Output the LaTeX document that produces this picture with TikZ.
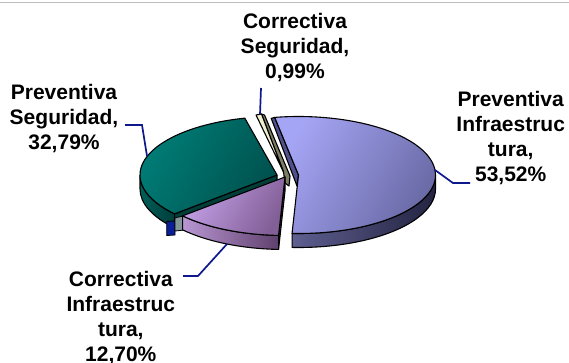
\documentclass[tikz,border=0pt]{standalone}
\usepackage{fontspec}
\setmainfont{Liberation Sans}
\usetikzlibrary{calc}
\definecolor{leader}{RGB}{12,24,140}
\definecolor{rulegray}{RGB}{190,190,190}
\definecolor{bigTopL}{RGB}{165,165,245}
\definecolor{bigTopR}{RGB}{105,105,165}
\definecolor{bigRimL}{RGB}{95,95,145}
\definecolor{bigRimR}{RGB}{35,35,65}
\definecolor{bigSide}{RGB}{80,80,140}
\definecolor{tealTopL}{RGB}{0,128,122}
\definecolor{tealTopR}{RGB}{0,82,78}
\definecolor{tealRimL}{RGB}{0,95,90}
\definecolor{tealRimR}{RGB}{0,60,58}
\definecolor{tealSide}{RGB}{0,62,58}
\definecolor{navyBlk}{RGB}{10,30,150}
\definecolor{grayBlk}{RGB}{130,150,150}
\definecolor{purTopL}{RGB}{195,160,230}
\definecolor{purTopR}{RGB}{130,95,150}
\definecolor{purRimL}{RGB}{185,150,210}
\definecolor{purRimR}{RGB}{95,65,110}
\definecolor{purSide}{RGB}{90,60,100}
\definecolor{ivory}{RGB}{240,240,208}
\definecolor{olive}{RGB}{125,125,100}
\begin{document}
\begin{tikzpicture}[x=1pt,y=1pt,
  lbl/.style={font=\fontsize{21}{25}\selectfont\bfseries, align=center, inner sep=0pt, anchor=north},
  lead/.style={draw=leader, line width=1.7pt, line join=miter},
  edge/.style={draw=black, line width=1.1pt, line join=round},
  ell/.style={x radius=137pt, y radius=58.5pt},
]
\useasboundingbox (0,0) rectangle (569,-362);
\coordinate (ruleL) at (0,-2);
\coordinate (ruleR) at (569,-2);
\draw[rulegray, line width=1pt] (ruleL) -- (ruleR);

% pie centres (exploded)
\coordinate (B) at (298.5,-175);
\coordinate (T) at (277,-175);
\coordinate (U) at (285,-177);

% tiny slice: Correctiva Seguridad
\filldraw[edge, fill=olive] (261.5,-114) -- (264.5,-115) -- (290,-176) -- (289,-186) -- (285,-183) -- (283.5,-172) -- cycle;
\filldraw[edge, fill=ivory] (256,-115) -- (261.5,-114) -- (283.5,-172) -- cycle;
\coordinate (tinyTop) at (260,-114.5);

% big slice: Preventiva Infraestructura
\shadedraw[edge, left color=bigRimL, right color=bigRimR]
  ($(B)+(-92.7:137pt and 58.5pt)$) arc[start angle=-92.7, end angle=0, ell]
  -- ++(0,-14) arc[start angle=0, end angle=-92.7, ell] -- cycle;
\filldraw[edge, fill=bigSide]
  ($(B)+(100:137pt and 58.5pt)$) -- (B) -- ($(B)+(-1.5,-11)$)
  -- ($(B)+(100:137pt and 58.5pt)+(-3.5,-1)$) -- cycle;
\shadedraw[edge, left color=bigTopL, right color=bigTopR, shading angle=60]
  (B) -- ($(B)+(-92.7:137pt and 58.5pt)$) arc[start angle=-92.7, end angle=100, ell] -- cycle;
\coordinate (bigR) at (435,-170);

% teal slice: Preventiva Seguridad
\shadedraw[edge, left color=tealRimL, right color=tealRimR]
  ($(T)+(180:137pt and 58.5pt)$) arc[start angle=180, end angle=221.6, ell]
  -- ++(0,-14) arc[start angle=221.6, end angle=180, ell] -- cycle;
\filldraw[edge, fill=tealSide]
  (T) -- ($(T)+(221.6:137pt and 58.5pt)$) -- ++(0,-14) -- ($(T)+(0,-14)$) -- cycle;
\filldraw[draw=black, line width=0.8pt, fill=navyBlk] (166.7,-221.5) -- (175,-221) -- (175,-235) -- (166.7,-235.5) -- cycle;
\shadedraw[edge, left color=tealTopL, right color=tealTopR, shading angle=60]
  (T) -- ($(T)+(103.6:137pt and 58.5pt)$) arc[start angle=103.6, end angle=221.6, ell] -- cycle;
\coordinate (tealL) at (147,-156);

% purple slice: Correctiva Infraestructura
\filldraw[draw=black, line width=0.8pt, fill=grayBlk] (175,-217.8) -- (182.6,-216.2) -- (182.6,-230.2) -- (175,-231) -- cycle;
\shadedraw[edge, left color=purRimL, right color=purRimR]
  ($(U)+(221.6:137pt and 58.5pt)$) arc[start angle=221.6, end angle=267.3, ell]
  -- ++(0,-14) arc[start angle=267.3, end angle=221.6, ell] -- cycle;
\filldraw[edge, fill=purSide]
  (U) -- ($(U)+(267.3:137pt and 58.5pt)$) -- ++(0,-14) -- ($(U)+(0,-14)$) -- cycle;
\shadedraw[edge, left color=purTopL, right color=purTopR, shading angle=60]
  (U) -- ($(U)+(221.6:137pt and 58.5pt)$) arc[start angle=221.6, end angle=267.3, ell] -- cycle;
\coordinate (purB) at (227,-244);

% labels
\node[lbl] (lTop) at (295,-13) {Correctiva\\Seguridad,\\0,99\%};
\node[lbl] (lRight) at (510.7,-91.5) {Preventiva\\Infraestruc\\tura,\\53,52\%};
\node[lbl] (lLeft) at (64,-84) {Preventiva\\Seguridad,\\32,79\%};
\node[lbl] (lBot) at (120.8,-271) {Correctiva\\Infraestruc\\tura,\\12,70\%};

% leader lines
\coordinate (topA) at (261,-88);
\coordinate (rightA) at (470,-183);
\coordinate (rightK) at (453,-183);
\coordinate (leftA) at (125,-125);
\coordinate (leftK) at (142,-125);
\coordinate (botA) at (183,-276);
\coordinate (botK) at (198,-276);
\draw[lead] (topA) -- (tinyTop);
\draw[lead] (rightA) -- (rightK) -- (bigR);
\draw[lead] (leftA) -- (leftK) -- (tealL);
\draw[lead] (botA) -- (botK) -- (purB);
\end{tikzpicture}
\end{document}
